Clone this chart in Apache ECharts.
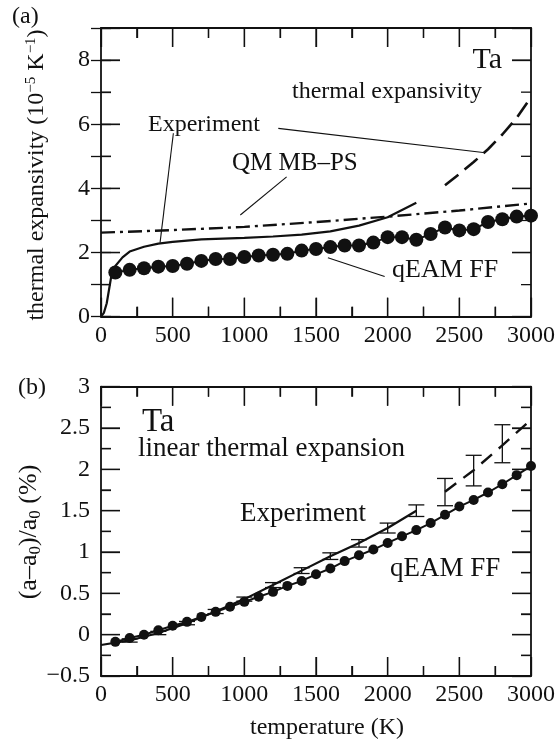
<!DOCTYPE html>
<html>
<head>
<meta charset="utf-8">
<script src="https://cdn.jsdelivr.net/npm/echarts@6/dist/echarts.min.js"></script>
<style>
  html, body { margin: 0; padding: 0; background: #fff; }
  #chart { width: 558px; height: 744px; }
</style>
</head>
<body>
<div id="chart"></div>
<script>
// ---------- (a) thermal expansivity of Ta (10^-5 K^-1) ----------
const qeamTopT   = [100, 200, 300, 400, 500, 600, 700, 800, 900, 1000,
                    1100, 1200, 1300, 1400, 1500, 1600, 1700, 1800, 1900, 2000,
                    2100, 2200, 2300, 2400, 2500, 2600, 2700, 2800, 2900, 3000];
const qeamTopVal = [1.38, 1.46, 1.51, 1.56, 1.58, 1.65, 1.74, 1.80, 1.80, 1.86,
                    1.91, 1.93, 1.96, 2.06, 2.11, 2.17, 2.22, 2.22, 2.31, 2.48,
                    2.48, 2.40, 2.58, 2.78, 2.69, 2.73, 2.95, 3.04, 3.12, 3.15];

const expTopT     = [0, 20, 40, 60, 75, 100, 150, 200, 300, 400, 500, 700,
                     1000, 1200, 1400, 1600, 1800, 2000, 2200];
const expTopVal   = [0, 0.12, 0.42, 0.95, 1.35, 1.58, 1.85, 2.03, 2.18, 2.28, 2.33, 2.41,
                     2.46, 2.50, 2.56, 2.66, 2.84, 3.10, 3.55];
const expTopHiT   = [2400, 2500, 2600, 2700, 2800, 2900, 3000];
const expTopHiVal = [4.10, 4.45, 4.82, 5.22, 5.68, 6.20, 6.84];

const qmT   = [0, 500, 1000, 1500, 2000, 2500, 3000];
const qmVal = [2.62, 2.70, 2.80, 2.95, 3.12, 3.31, 3.53];

// ---------- (b) linear thermal expansion (a-a0)/a0 in % ----------
const qeamBotT   = qeamTopT;
const qeamBotVal = [-0.087, -0.04, 0.0, 0.054, 0.107, 0.155, 0.215, 0.276, 0.337, 0.397,
                    0.458, 0.518, 0.59, 0.65, 0.73, 0.80, 0.89, 0.96, 1.03, 1.11,
                    1.19, 1.265, 1.35, 1.45, 1.55, 1.63, 1.72, 1.82, 1.93, 2.04];

const expBotT     = [0, 200, 400, 600, 800, 1000, 1200, 1400, 1600, 1800, 2000, 2200];
const expBotVal   = [-0.125, -0.07, 0.02, 0.14, 0.28, 0.43, 0.60, 0.775, 0.95, 1.11, 1.29, 1.50];
const expBotHiT   = [2400, 2600, 2800, 3000];
const expBotHiVal = [1.73, 1.99, 2.29, 2.60];

// measured points with error bars
const errT   = [200, 400, 600, 800, 1000, 1200, 1400, 1600, 1800, 2000, 2200, 2400, 2600, 2800];
const errVal = [-0.07, 0.02, 0.14, 0.28, 0.43, 0.60, 0.775, 0.95, 1.105, 1.29, 1.50, 1.725, 1.985, 2.31];
const errBar = [0.02, 0.02, 0.02, 0.025, 0.025, 0.03, 0.035, 0.04, 0.045, 0.06, 0.07, 0.165, 0.185, 0.23];

// axis ranges and tick values
const tempRange  = [0, 3000];
const topYRange  = [0, 9];
const botYRange  = [-0.5, 3];
const tempTicks  = [0, 500, 1000, 1500, 2000, 2500, 3000];
const tempMinor  = [250, 750, 1250, 1750, 2250, 2750];
const topYTicks  = [0, 2, 4, 6, 8];
const topYMinor  = [1, 3, 5, 7];
const botYTicks  = [-0.5, 0, 0.5, 1, 1.5, 2, 2.5, 3];
const botYMinor  = [-0.25, 0.25, 0.75, 1.25, 1.75, 2.25, 2.75];

// leader lines of panel (a), in data units [T, value]
const leaders = [
  [[505, 5.72], [412, 2.31]],
  [[1237, 5.87], [2666, 5.12]],
  [[1295, 4.36], [972, 3.17]],
  [[1583, 1.84], [1979, 1.25]]
];

// ---------- drawing ----------
const FONT = '"Liberation Serif", "Times New Roman", serif';
const INK = '#111';
const MAJOR = 19, MINOR = 10;   // tick lengths in px
const zip = (xs, ys) => xs.map((x, i) => [x, ys[i]]);
const fmtNum = v => String(v).replace('-', '\u2212');

function axisBase(o) {
  return Object.assign({
    type: 'value',
    axisLine: { show: true, onZero: false, lineStyle: { color: INK, width: 1.8 } },
    axisTick: { show: true, inside: true, length: MAJOR, lineStyle: { color: INK, width: 1.3 } },
    minorTick: { show: false },
    splitLine: { show: false },
    axisLabel: { show: false }
  }, o);
}
const tickLabel = (o) => Object.assign({ show: true, color: INK, fontFamily: FONT, fontSize: 24 }, o);
const minorTk = { show: true, splitNumber: 2, length: MINOR, lineStyle: { color: INK, width: 1.3 } };

const xScale = { min: tempRange[0], max: tempRange[1], interval: 500, minorTick: minorTk };
const topYScale = { min: topYRange[0], max: topYRange[1], interval: 2 };
const topYMinorScale = { min: topYRange[0], max: topYRange[1], interval: 1,
  axisLine: { show: false },
  axisTick: { show: true, inside: true, length: MINOR, lineStyle: { color: INK, width: 1.3 } } };
const botYScale = { min: botYRange[0], max: botYRange[1], interval: 0.5, minorTick: minorTk };

const xAxis = [
  axisBase(Object.assign({ gridIndex: 0, position: 'bottom', axisLabel: tickLabel({ margin: 7, formatter: fmtNum }) }, xScale)),
  axisBase(Object.assign({ gridIndex: 0, position: 'top' }, xScale)),
  axisBase(Object.assign({ gridIndex: 1, position: 'bottom', axisLabel: tickLabel({ margin: 7, formatter: fmtNum }) }, xScale)),
  axisBase(Object.assign({ gridIndex: 1, position: 'top' }, xScale))
];
const yAxis = [
  axisBase(Object.assign({ gridIndex: 0, position: 'left',
    axisLabel: tickLabel({ margin: 11, formatter: v => (topYTicks.includes(v) ? fmtNum(v) : ' ') }) }, topYScale)),
  axisBase(Object.assign({ gridIndex: 0, position: 'left' }, topYMinorScale)),
  axisBase(Object.assign({ gridIndex: 0, position: 'right' }, topYScale)),
  axisBase(Object.assign({ gridIndex: 0, position: 'right' }, topYMinorScale)),
  axisBase(Object.assign({ gridIndex: 1, position: 'left', axisLabel: tickLabel({ margin: 11, formatter: fmtNum }) }, botYScale)),
  axisBase(Object.assign({ gridIndex: 1, position: 'right' }, botYScale))
];

// inward tick marks on the four sides of a panel: [T, value, dx px, dy px]
function frameTicks(yRange, yMajor, yMinor) {
  const rows = [];
  const xt = (v, len) => { rows.push([v, yRange[0], 0, -len]); rows.push([v, yRange[1], 0, len]); };
  const yt = (v, len) => {
    if (v === yRange[0] || v === yRange[1]) return;
    rows.push([tempRange[0], v, len, 0]); rows.push([tempRange[1], v, -len, 0]);
  };
  tempTicks.forEach(v => xt(v, MAJOR));
  tempMinor.forEach(v => xt(v, MINOR));
  yMajor.forEach(v => yt(v, MAJOR));
  yMinor.forEach(v => yt(v, MINOR));
  return rows;
}
function tickSeries(xi, yi, rows) {
  return {
    name: 'frame ticks', type: 'custom', xAxisIndex: xi, yAxisIndex: yi, z: 4, silent: true,
    data: rows,
    renderItem: function (params, api) {
      const p = api.coord([api.value(0), api.value(1)]);
      return {
        type: 'line',
        shape: { x1: p[0], y1: p[1], x2: p[0] + api.value(2), y2: p[1] + api.value(3) },
        style: { stroke: INK, lineWidth: 1.3 }
      };
    }
  };
}

function lineSeries(name, data, xi, yi, style) {
  return {
    name, type: 'line', data, xAxisIndex: xi, yAxisIndex: yi,
    showSymbol: false, symbol: 'none', clip: false,
    lineStyle: Object.assign({ color: INK, width: 2.2 }, style),
    z: 3, silent: true
  };
}
function dotSeries(name, data, xi, yi, size) {
  return {
    name, type: 'line', data, xAxisIndex: xi, yAxisIndex: yi,
    symbol: 'circle', symbolSize: size, showSymbol: true, clip: false,
    itemStyle: { color: INK, borderWidth: 0 },
    lineStyle: { color: INK, width: 2 },
    z: 5, silent: true
  };
}

const series = [
  lineSeries('QM MB-PS', zip(qmT, qmVal), 0, 0, { type: [14, 5, 3, 5], width: 2.4 }),
  Object.assign(lineSeries('Experiment', zip(expTopT, expTopVal), 0, 0, {}), {
    markLine: {
      silent: true, symbol: ['none', 'none'], label: { show: false },
      lineStyle: { color: INK, width: 1.1, type: 'solid' },
      emphasis: { disabled: true }, animation: false,
      data: leaders.map(p => [{ coord: p[0] }, { coord: p[1] }])
    }
  }),
  lineSeries('Experiment high T', zip(expTopHiT, expTopHiVal), 0, 0, { type: [17, 8], width: 2.6 }),
  dotSeries('qEAM FF', zip(qeamTopT, qeamTopVal), 0, 0, 14),

  lineSeries('Experiment (b)', zip(expBotT, expBotVal), 2, 4, {}),
  lineSeries('Experiment (b) high T', zip(expBotHiT, expBotHiVal), 2, 4, { type: [14, 9], width: 2.4 }),
  {
    name: 'error bars', type: 'custom', xAxisIndex: 2, yAxisIndex: 4, z: 4, silent: true,
    data: errT.map((t, i) => [t, errVal[i], errBar[i]]),
    renderItem: function (params, api) {
      const t = api.value(0), v = api.value(1), e = api.value(2);
      const hi = api.coord([t, v + e]);
      const lo = api.coord([t, v - e]);
      const w = 8;
      const st = { stroke: INK, lineWidth: 1.3 };
      return {
        type: 'group',
        children: [
          { type: 'line', shape: { x1: hi[0], y1: hi[1], x2: lo[0], y2: lo[1] }, style: st },
          { type: 'line', shape: { x1: hi[0] - w, y1: hi[1], x2: hi[0] + w, y2: hi[1] }, style: st },
          { type: 'line', shape: { x1: lo[0] - w, y1: lo[1], x2: lo[0] + w, y2: lo[1] }, style: st }
        ]
      };
    }
  },
  dotSeries('qEAM FF (b)', zip(qeamBotT, qeamBotVal), 2, 4, 10),

  tickSeries(0, 0, frameTicks(topYRange, topYTicks, topYMinor)),
  tickSeries(2, 4, frameTicks(botYRange, botYTicks, botYMinor))
];

function txt(text, x, y, size, extra) {
  return {
    type: 'text', x, y, silent: true,
    style: Object.assign({
      text, fill: INK, font: size + 'px ' + FONT,
      align: 'left', verticalAlign: 'middle'
    }, extra || {})
  };
}

// vertical axis titles, laid out piece by piece so that super/subscripts sit off the baseline
const measureCtx = document.createElement('canvas').getContext('2d');
function textWidth(t, size) { measureCtx.font = size + 'px ' + FONT; return measureCtx.measureText(t).width; }
function verticalTitle(parts, cx, cy) {
  const widths = parts.map(p => textWidth(p.text, p.size));
  const total = widths.reduce((a, b) => a + b, 0);
  let y = cy + total / 2;
  return parts.map((p, i) => {
    const el = {
      type: 'text', x: cx + (p.shift || 0), y, rotation: Math.PI / 2, silent: true,
      style: { text: p.text, fill: INK, font: p.size + 'px ' + FONT, align: 'left', verticalAlign: 'middle' }
    };
    y -= widths[i];
    return el;
  });
}

const graphic = [
  txt('(a)', 12, 17, 24),
  txt('Ta', 502, 60, 30, { align: 'right' }),
  txt('thermal expansivity', 292, 92, 24),
  txt('Experiment', 148, 125, 24),
  txt('QM MB\u2013PS', 232, 163, 25),
  txt('qEAM FF', 392, 270, 26),

  txt('(b)', 18, 388, 24),
  txt('Ta', 142, 422, 33),
  txt('linear thermal expansion', 138, 449, 27),
  txt('Experiment', 240, 514, 27),
  txt('qEAM FF', 390, 569, 27),

  txt('temperature (K)', 327, 728, 24, { align: 'center' })
].concat(
  verticalTitle([
    { text: 'thermal expansivity (10', size: 24 },
    { text: '\u22125', size: 15, shift: -5.5 },
    { text: ' K', size: 24 },
    { text: '\u22121', size: 15, shift: -5.5 },
    { text: ')', size: 24 }
  ], 37, 175),
  verticalTitle([
    { text: '(a\u2013a', size: 26 },
    { text: '0', size: 17, shift: 7 },
    { text: ')/a', size: 26 },
    { text: '0', size: 17, shift: 7 },
    { text: ' (%)', size: 26 }
  ], 29, 532)
);

const chart = echarts.init(document.getElementById('chart'), null, { renderer: 'canvas' });
chart.setOption({
  animation: false,
  backgroundColor: '#fff',
  grid: [
    { left: 101, top: 28, width: 434, height: 288.7 },
    { left: 101, top: 386.7, width: 434, height: 289.3 }
  ],
  xAxis, yAxis, series, graphic
});
</script>
</body>
</html>
